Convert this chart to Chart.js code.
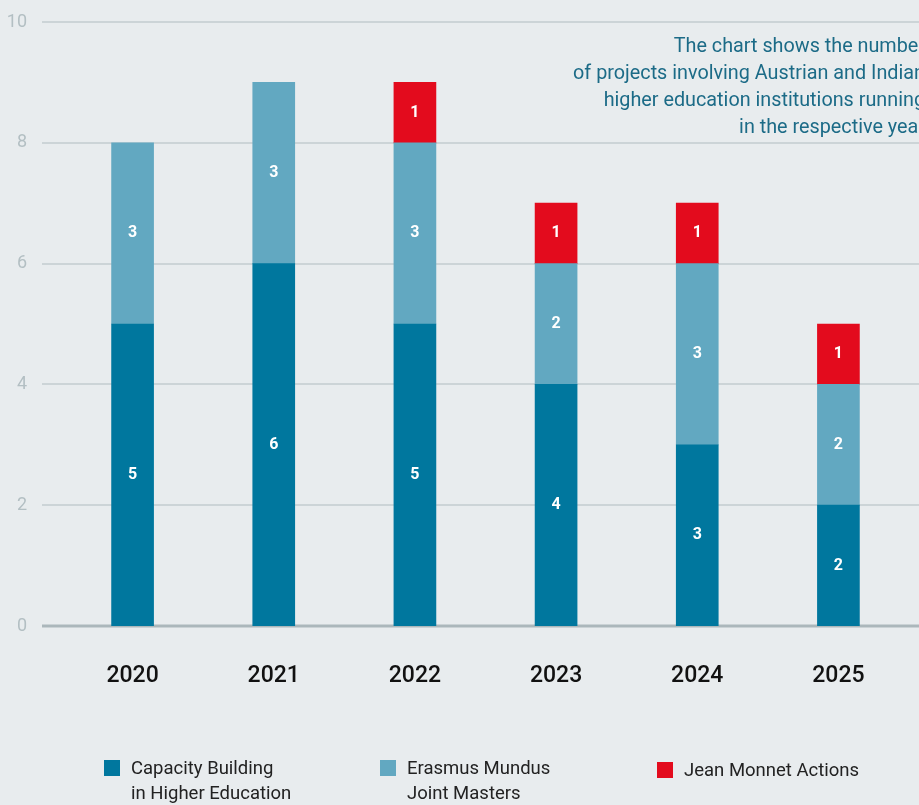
<!DOCTYPE html>
<html>
<head>
<meta charset="utf-8">
<script src="https://cdn.jsdelivr.net/npm/chart.js@4"></script>
<style>
    html, body { margin: 0; padding: 0; background: #e8ecee; }
    #wrap { position: relative; width: 919px; height: 805px; overflow: hidden; }
    canvas { position: absolute; left: 0; top: 0; }
    .leg { position: absolute; font-family: Roboto, sans-serif; font-size: 18.5px; color: #222; line-height: 25px; }
    .leg span.box { position: absolute; width: 16px; height: 16px; left: -27px; top: 4px; }
</style>
</head>
<body>
<div id="wrap">
    <canvas id="chart" width="919" height="805"></canvas>
    <div class="leg" style="left:131px; top:756px;"><span class="box" style="background:#00779e"></span>Capacity Building<br>in Higher Education</div>
    <div class="leg" style="left:407px; top:756px;"><span class="box" style="background:#62a8c1"></span>Erasmus Mundus<br>Joint Masters</div>
    <div class="leg" style="left:684px; top:758px;"><span class="box" style="background:#e30b1d"></span>Jean Monnet Actions</div>
</div>
<script>
const years = ['2020', '2021', '2022', '2023', '2024', '2025'];
const capacityBuilding = [5, 6, 5, 4, 3, 2];
const erasmusMundus = [3, 3, 3, 2, 3, 2];
const jeanMonnet = [null, null, 1, 1, 1, 1];
const noteLines = [
    'The chart shows the number',
    'of projects involving Austrian and Indian',
    'higher education institutions running',
    'in the respective year'
];

// horizontal grid lines wider than the bar area
const gridPlugin = {
    id: 'grid',
    beforeDatasetsDraw(chart) {
        const ctx = chart.ctx;
        const y = chart.scales.y;
        ctx.save();
        y.ticks.forEach(t => {
            const py = Math.round(y.getPixelForValue(t.value));
            if (t.value === 0) {
                ctx.strokeStyle = '#abb7bb';
                ctx.lineWidth = 3;
            } else {
                ctx.strokeStyle = '#c3cccf';
                ctx.lineWidth = 1.5;
            }
            ctx.beginPath();
            ctx.moveTo(42, py);
            ctx.lineTo(919, py);
            ctx.stroke();
        });
        ctx.restore();
    }
};

// numbers inside the bar segments + note text
const labelPlugin = {
    id: 'labels',
    afterDatasetsDraw(chart) {
        const ctx = chart.ctx;
        ctx.save();
        ctx.fillStyle = '#fff';
        ctx.font = 'bold 16px Roboto';
        ctx.textAlign = 'center';
        ctx.textBaseline = 'middle';
        chart.data.datasets.forEach((ds, i) => {
            chart.getDatasetMeta(i).data.forEach((bar, j) => {
                if (!ds.data[j]) return;
                ctx.fillText(ds.data[j], bar.x, (bar.y + bar.base) / 2);
            });
        });

        ctx.fillStyle = '#1c6b87';
        ctx.font = '19.8px Roboto';
        ctx.textAlign = 'right';
        ctx.textBaseline = 'alphabetic';
        noteLines.forEach((line, i) => {
            ctx.fillText(line, 925, 52 + i * 27);
        });
        ctx.restore();
    }
};

new Chart(document.getElementById('chart'), {
    type: 'bar',
    data: {
        labels: years,
        datasets: [
            { label: 'Capacity Building in Higher Education', data: capacityBuilding, backgroundColor: '#00779e' },
            { label: 'Erasmus Mundus Joint Masters', data: erasmusMundus, backgroundColor: '#62a8c1' },
            { label: 'Jean Monnet Actions', data: jeanMonnet, backgroundColor: '#e30b1d' }
        ]
    },
    options: {
        responsive: false,
        animation: false,
        layout: { padding: { left: 0, right: 10, top: 22, bottom: 0 } },
        datasets: { bar: { barThickness: 42 } },
        plugins: {
            legend: { display: false },
            tooltip: { enabled: false }
        },
        scales: {
            x: {
                stacked: true,
                grid: { display: false, drawTicks: false },
                border: { display: false },
                ticks: {
                    padding: 36,
                    color: '#111',
                    font: { family: 'Roboto', size: 23, weight: 500 }
                },
                afterFit: s => { s.height = 179; }
            },
            y: {
                stacked: true,
                min: 0,
                max: 10,
                grid: { display: false, drawTicks: false },
                border: { display: false },
                ticks: {
                    stepSize: 2,
                    padding: 35,
                    color: '#b3bfc3',
                    font: { family: 'Roboto', size: 18 }
                },
                afterFit: s => {
                    s.width = 62;
                    s.paddingTop = 0;
                    s.paddingBottom = 0;
                }
            }
        }
    },
    plugins: [gridPlugin, labelPlugin]
});
</script>
</body>
</html>
